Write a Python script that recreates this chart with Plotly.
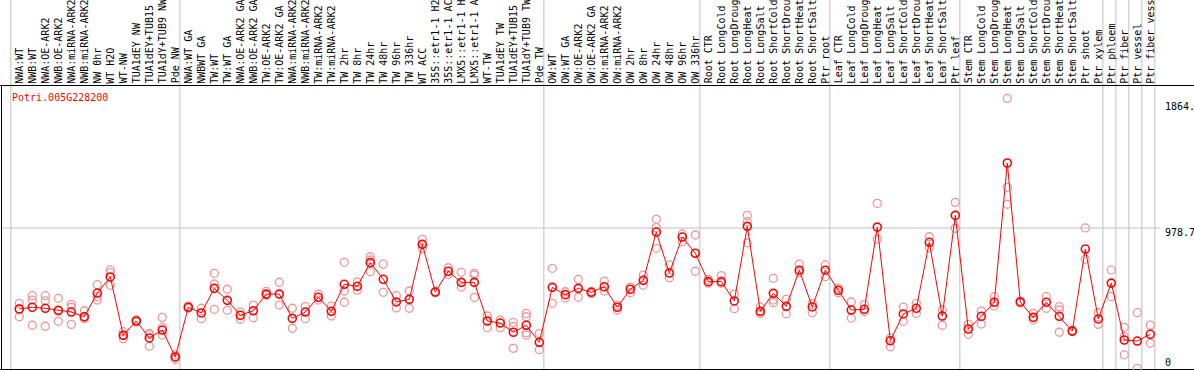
import plotly.graph_objects as go

gene = "Potri.005G228200"

samples = [
    "NWA:WT", "NWB:WT", "NWA:OE-ARK2", "NWB:OE-ARK2", "NWA:miRNA-ARK2", "NWB:miRNA-ARK2",
    "NW 0hr", "WT H2O", "WT-NW", "TUA1dEY NW", "TUA1dEY+TUB15 NW", "TUA1dY+TUB9 NW", "Pde NW",
    "NWA:WT GA", "NWBWT GA", "TW:WT", "TW:WT GA", "NWA:OE-ARK2 GA", "NWB:OE-ARK2 GA",
    "TW:OE-ARK2", "TW:OE-ARK2 GA", "NWA:miRNA-ARK2", "NWB:miRNA-ARK2", "TW:miRNA-ARK2",
    "TW:miRNA-ARK2", "TW 2hr", "TW 8hr", "TW 24hr", "TW 48hr", "TW 96hr", "TW 336hr", "WT ACC",
    "35S::etr1-1 H2O", "35S::etr1-1 ACC", "LMX5::etr1-1 H2O", "LMX5::etr1-1 ACC", "WT-TW",
    "TUA1dEY TW", "TUA1dEY+TUB15 TW", "TUA1dY+TUB9 TW", "Pde TW",
    "OW:WT", "OW:WT GA", "OW:OE-ARK2", "OW:OE-ARK2 GA", "OW:miRNA-ARK2", "OW:miRNA-ARK2",
    "OW 2hr", "OW 8hr", "OW 24hr", "OW 48hr", "OW 96hr", "OW 336hr",
    "Root CTR", "Root LongCold", "Root LongDrought", "Root LongHeat", "Root LongSalt",
    "Root ShortCold", "Root ShortDrought", "Root ShortHeat", "Root ShortSalt", "Ptr root",
    "Leaf CTR", "Leaf LongCold", "Leaf LongDrought", "Leaf LongHeat", "Leaf LongSalt",
    "Leaf ShortCold", "Leaf ShortDrought", "Leaf ShortHeat", "Leaf ShortSalt", "Ptr leaf",
    "Stem CTR", "Stem LongCold", "Stem LongDrought", "Stem LongHeat", "Stem LongSalt",
    "Stem ShortCold", "Stem ShortDrought", "Stem ShortHeat", "Stem ShortSalt", "Ptr shoot",
    "Ptr xylem", "Ptr phloem", "Ptr fiber", "Ptr vessel", "Ptr fiber vessel",
]

means = [
    425, 437, 430, 416, 404, 372, 534, 644, 245, 343, 227, 281, 97,
    437, 398, 566, 484, 382, 413, 527, 527, 361, 404, 505, 409, 594, 580, 742, 628, 473, 491,
    867, 541, 683, 607, 607, 343, 329, 266, 314, 197,
    573, 523, 566, 539, 577, 437, 560, 621, 951, 671, 917, 806,
    612, 612, 480, 990, 409, 532, 443, 690, 439, 690,
    553, 418, 423, 985, 208, 391, 430, 881, 377, 1065,
    288, 375, 471, 1423, 473, 368, 471, 375, 274, 835, 357,
    602, 213, 206, 252,
]

replicates = [
    [464, 372, 425], [516, 486, 314], [516, 481, 307], [498, 341, 410], [457, 437, 320],
    [413, 359, 372], [591, 509, 486], [692, 673, 587], [270, 222, 245], [350, 336],
    [259, 170, 250], [368, 300, 247], [111, 81, 97],
    [445, 430], [430, 359], [669, 596, 423], [560, 416], [406, 355], [452, 365], [546, 520],
    [608, 452], [430, 293], [441, 359], [527, 486], [445, 377], [744, 548, 471], [611, 553],
    [782, 680, 760], [732, 539], [516, 432], [548, 430], [901, 840], [545, 537], [707, 662],
    [676, 575], [669, 657, 505], [377, 297], [350, 297], [334, 304, 156], [395, 372, 263, 247],
    [257, 147],
    [703, 464], [543, 500], [628, 505], [545, 530], [616, 548], [452, 418], [575, 536],
    [657, 587], [1038, 981, 840], [726, 639], [938, 885], [931, 683],
    [628, 602], [653, 601], [527, 427], [1065, 1022, 878], [438, 395], [635, 486, 468],
    [491, 393], [732, 673], [464, 400], [726, 646],
    [568, 536], [473, 363], [457, 406], [1147, 903], [167, 227], [438, 341], [464, 395],
    [919, 842], [418, 314], [1154, 977],
    [320, 252], [411, 322], [509, 445], [1865, 1257, 1141], [480, 466], [395, 350],
    [509, 430], [441, 418, 266], [270, 280], [979, 765], [400, 320],
    [692, 509], [300, 236, 112], [400, 19], [315, 191],
]

group_starts = [0, 13, 41, 53, 63, 73, 84, 85, 86, 87, 88]
grid_value = 978.7
ytick_vals = [1864.8, 978.7, 0]
ytick_text = ["1864.8", "978.7", "0"]

FONT = "DejaVu Sans Mono"
W, H = 1194, 370
X_RANGE = [-1.4846, 90.3615]
Y_RANGE = [7.99, 2537.3]
HEADER_Y = 1952.8
BOTTOM_Y = 11.4
LEFT_X = -1.369

xs = list(range(len(samples)))
rx, ry = [], []
for i, r in enumerate(replicates):
    for v in r:
        rx.append(i)
        ry.append(v)

fig = go.Figure()
fig.add_trace(go.Scatter(
    x=rx, y=ry, mode="markers",
    marker=dict(symbol="circle-open", size=8, color="rgb(240,150,150)", line=dict(width=1.3)),
    hoverinfo="skip", showlegend=False,
))
fig.add_trace(go.Scatter(
    x=xs, y=means, mode="lines+markers",
    line=dict(color="red", width=1),
    marker=dict(symbol="circle-open", size=8, color="red", line=dict(width=1.6)),
    text=samples, showlegend=False,
))

shapes = []
gray = "rgb(192,192,192)"
for s in group_starts:
    shapes.append(dict(type="line", xref="x", yref="y", x0=s - 0.65, x1=s - 0.65,
                       y0=BOTTOM_Y, y1=Y_RANGE[1], line=dict(color=gray, width=1), layer="below"))
shapes.append(dict(type="line", xref="x", yref="y", x0=LEFT_X, x1=87.75,
                   y0=grid_value, y1=grid_value, line=dict(color=gray, width=1), layer="below"))
shapes.append(dict(type="line", xref="x", yref="y", x0=X_RANGE[0], x1=X_RANGE[1],
                   y0=HEADER_Y, y1=HEADER_Y, line=dict(color="black", width=1), layer="below"))
shapes.append(dict(type="line", xref="x", yref="y", x0=X_RANGE[0], x1=X_RANGE[1],
                   y0=BOTTOM_Y, y1=BOTTOM_Y, line=dict(color="black", width=1), layer="below"))
shapes.append(dict(type="line", xref="x", yref="y", x0=LEFT_X, x1=LEFT_X,
                   y0=BOTTOM_Y, y1=HEADER_Y, line=dict(color="black", width=1), layer="below"))

annotations = []
for i, name in enumerate(samples):
    annotations.append(dict(
        x=i, y=HEADER_Y, xref="x", yref="y", text=name, textangle=-90,
        xanchor="center", yanchor="bottom", showarrow=False,
        font=dict(family=FONT, size=10, color="black"),
    ))
annotations.append(dict(
    x=10 / W, y=1 - 97 / H, xref="paper", yref="paper", text=gene,
    xanchor="left", yanchor="middle", showarrow=False,
    font=dict(family=FONT, size=10, color="red"),
))
# y tick labels (placed on the right, inside the frame), positioned by the y scale
yshifts = [-8.6, -5, 9]
span = Y_RANGE[1] - Y_RANGE[0]
for v, t, sh in zip(ytick_vals, ytick_text, yshifts):
    annotations.append(dict(
        x=1163 / W, y=(v - Y_RANGE[0]) / span, xref="paper", yref="paper", text=t, yshift=sh,
        xanchor="left", yanchor="middle", showarrow=False,
        font=dict(family=FONT, size=10, color="black"),
    ))

fig.update_layout(
    width=W, height=H,
    margin=dict(l=0, r=0, t=0, b=0, pad=0),
    paper_bgcolor="white", plot_bgcolor="white",
    xaxis=dict(range=X_RANGE, visible=False, fixedrange=True),
    yaxis=dict(range=Y_RANGE, visible=False, fixedrange=True),
    shapes=shapes, annotations=annotations, showlegend=False,
)

fig.write_html("out.html", post_script="document.body.style.margin='0px';document.body.style.overflow='hidden';",
               config={"displayModeBar": False})
